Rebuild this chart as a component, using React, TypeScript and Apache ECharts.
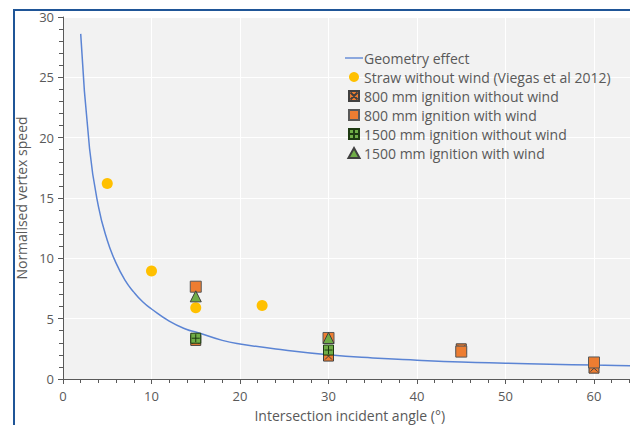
import React, { useEffect, useRef } from "react";
import * as echarts from "echarts";

// Geometry effect curve
const curveX = [2, 3, 4, 5, 6, 7, 8, 9, 10, 12, 14, 15, 18, 20, 25, 30, 35, 40, 45, 50, 55, 60, 65, 70];
const curveY = [28.6, 19.1, 14.3, 11.5, 9.6, 8.2, 7.2, 6.4, 5.8, 4.8, 4.1, 3.9, 3.2, 2.9, 2.4, 2.0, 1.74, 1.56, 1.41, 1.31, 1.22, 1.15, 1.1, 1.06];

const strawX = [5, 10, 15, 22.5];
const strawY = [16.2, 8.95, 5.9, 6.1];

const ign800NoWindX = [15, 30, 45, 60];
const ign800NoWindY = [3.2, 1.9, 2.5, 0.9];

const ign800WindX = [15, 30, 45, 60];
const ign800WindY = [7.65, 3.4, 2.27, 1.37];

const ign1500NoWindX = [15, 30];
const ign1500NoWindY = [3.38, 2.4];

const ign1500WindX = [15, 30];
const ign1500WindY = [6.85, 3.4];

const xTicks = [0, 10, 20, 30, 40, 50, 60, 70];
const yTicks = [0, 5, 10, 15, 20, 25, 30];

const seriesNames = [
  "Geometry effect",
  "Straw without wind (Viegas et al 2012)",
  "800 mm ignition without wind",
  "800 mm ignition with wind",
  "1500 mm ignition without wind",
  "1500 mm ignition with wind",
];

const zip = (xs: number[], ys: number[]) => xs.map((x, i) => [x, ys[i]]);

const FONT = "Open Sans";
const TEXT = "#595959";

export default function App() {
  const ref = useRef<HTMLDivElement>(null);
  useEffect(() => {
    document.body.style.margin = "0";
    document.body.style.overflow = "hidden";
    const chart = echarts.init(ref.current!, null, { renderer: "svg" });
    const squareX = "path://M0,0H10V10H0Z M1.5,1.5L8.5,8.5 M8.5,1.5L1.5,8.5";
    const squarePlus = "path://M0,0H10V10H0Z M5,1V9 M1,5H9";
    const sq = "path://M0,0H10V10H0Z";
    const circ = "path://M5,0A5,5,0,1,1,4.99,0Z";
    const tri = "path://M5,0L10,9L0,9Z";
    const lineIcon = "path://M0,0H20V1.5H0Z";
    chart.setOption({
      animation: false,
      backgroundColor: "#ffffff",
      textStyle: { fontFamily: FONT },
      graphic: [
        {
          type: "rect",
          shape: { x: 14, y: 10, width: 720, height: 500 },
          style: { fill: "none", stroke: "#1F5597", lineWidth: 2 },
          silent: true,
        },
      ],
      grid: {
        left: 63,
        top: 17,
        width: 619.5,
        height: 362,
        show: true,
        backgroundColor: "#f2f2f2",
        borderWidth: 0,
        outerBoundsMode: "none",
        containLabel: false,
      },
      legend: {
        orient: "vertical",
        left: 340,
        top: 46,
        padding: 5,
        itemWidth: 18,
        itemHeight: 10,
        itemGap: 5,
        symbolKeepAspect: true,
        data: [
          { name: seriesNames[0], icon: lineIcon },
          { name: seriesNames[1], icon: circ },
          { name: seriesNames[2], icon: squareX },
          { name: seriesNames[3], icon: sq },
          { name: seriesNames[4], icon: squarePlus },
          { name: seriesNames[5], icon: tri },
        ],
        textStyle: { color: TEXT, fontSize: 14, fontFamily: FONT, padding: [0, 0, 0, -4] },
      },
      xAxis: {
        type: "value",
        min: xTicks[0],
        max: xTicks[xTicks.length - 1],
        interval: 10,
        name: "Intersection incident angle (°)",
        nameLocation: "middle",
        nameGap: 29,
        nameTextStyle: { color: TEXT, fontSize: 14, fontFamily: FONT, padding: [0, 46, 0, 0] },
        axisLine: { show: true, lineStyle: { color: "#595959", width: 1 } },
        axisTick: { show: true, length: 5, lineStyle: { color: "#595959" } },
        minorTick: { show: true, splitNumber: 5, length: 4, lineStyle: { color: "#595959" } },
        axisLabel: { color: TEXT, fontSize: 13, margin: 10, fontFamily: FONT, showMaxLabel: false },
        splitLine: { show: true, lineStyle: { color: "#ffffff", width: 1 } },
      },
      yAxis: {
        type: "value",
        min: yTicks[0],
        max: yTicks[yTicks.length - 1],
        interval: 5,
        name: "Normalised vertex speed",
        nameLocation: "middle",
        nameGap: 34,
        nameTextStyle: { color: TEXT, fontSize: 14, fontFamily: FONT },
        axisLine: { show: true, lineStyle: { color: "#595959", width: 1 } },
        axisTick: { show: true, length: 5, lineStyle: { color: "#595959" } },
        minorTick: { show: true, splitNumber: 5, length: 4, lineStyle: { color: "#595959" } },
        axisLabel: { color: TEXT, fontSize: 13, margin: 9, fontFamily: FONT },
        splitLine: { show: true, lineStyle: { color: "#ffffff", width: 1 } },
      },
      series: [
        {
          name: seriesNames[0],
          type: "line",
          data: zip(curveX, curveY),
          smooth: true,
          symbol: "none",
          lineStyle: { color: "#5B84D4", width: 1.5 },
          itemStyle: { color: "#5B84D4" },
          z: 2,
        },
        {
          name: seriesNames[1],
          type: "scatter",
          data: zip(strawX, strawY),
          symbol: "circle",
          symbolSize: 11,
          itemStyle: { color: "#FFC000", opacity: 1 },
          z: 3,
        },
        {
          name: seriesNames[2],
          type: "scatter",
          data: zip(ign800NoWindX, ign800NoWindY),
          symbol: squareX,
          symbolSize: 10,
          itemStyle: { color: "#ED7D31", borderColor: "#404040", borderWidth: 1, opacity: 1 },
          z: 4,
        },
        {
          name: seriesNames[3],
          type: "scatter",
          data: zip(ign800WindX, ign800WindY),
          symbol: "rect",
          symbolSize: 11,
          itemStyle: { color: "#ED7D31", borderColor: "#595959", borderWidth: 1, opacity: 1 },
          z: 5,
        },
        {
          name: seriesNames[4],
          type: "scatter",
          data: zip(ign1500NoWindX, ign1500NoWindY),
          symbol: squarePlus,
          symbolSize: 10,
          itemStyle: { color: "#70AD47", borderColor: "#1e3a12", borderWidth: 1, opacity: 1 },
          z: 6,
        },
        {
          name: seriesNames[5],
          type: "scatter",
          data: zip(ign1500WindX, ign1500WindY),
          symbol: "triangle",
          symbolSize: 11,
          itemStyle: { color: "#70AD47", borderColor: "#404040", borderWidth: 1, opacity: 1 },
          z: 7,
        },
      ],
    });
    return () => chart.dispose();
  }, []);
  return <div ref={ref} style={{ width: 630, height: 425 }} />;
}
